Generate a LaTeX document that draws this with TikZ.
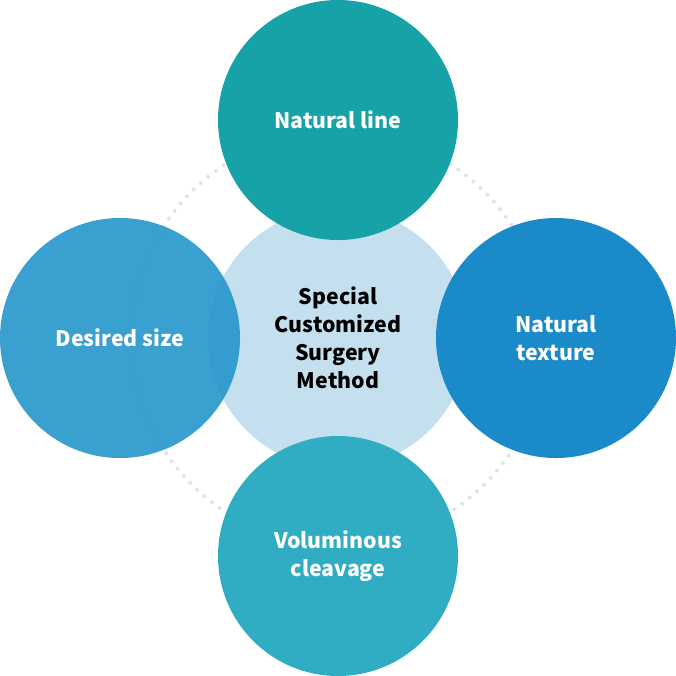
\documentclass[tikz,border=0pt]{standalone}
\usepackage{fontspec}
\setmainfont{Noto Sans CJK KR}
\begin{document}
\begin{tikzpicture}[x=1pt,y=-1pt,
  bubble/.style={circle,inner sep=0pt,minimum size=240pt,font=\fontsize{21.3}{28}\selectfont\bfseries,text=white,align=center},
  hub/.style={circle,inner sep=0pt,minimum size=260pt,fill=hubc,font=\fontsize{21.3}{28}\selectfont\bfseries,text=black,align=center},
  dotring/.style={draw=dotc,line width=4pt,line cap=round,dash pattern=on 0pt off 9.6pt}]
\definecolor{topc}{HTML}{17A2A8}
\definecolor{rightc}{HTML}{1B8AC8}
\definecolor{bottomc}{HTML}{30ADC2}
\definecolor{leftc}{HTML}{2596CA}
\definecolor{hubc}{HTML}{C4E0EE}
\definecolor{dotc}{HTML}{E2E2E2}
\useasboundingbox (0,0) rectangle (676,675);
\coordinate (o) at (338,338);
\draw[dotring] (o) circle[radius=207];
\node[hub] (hub) at (o) {Special\\Customized\\Surgery\\Method};
\node[bubble,fill=topc] (top) at (338,120) {Natural line};
\node[bubble,fill=rightc] (right) at (556,338) {Natural\\texture};
\node[bubble,fill=bottomc] (bottom) at (338,556) {Voluminous\\cleavage};
\node[bubble,fill=leftc,fill opacity=0.9,text opacity=1] (left) at (120,338) {Desired size};
\end{tikzpicture}
\end{document}
